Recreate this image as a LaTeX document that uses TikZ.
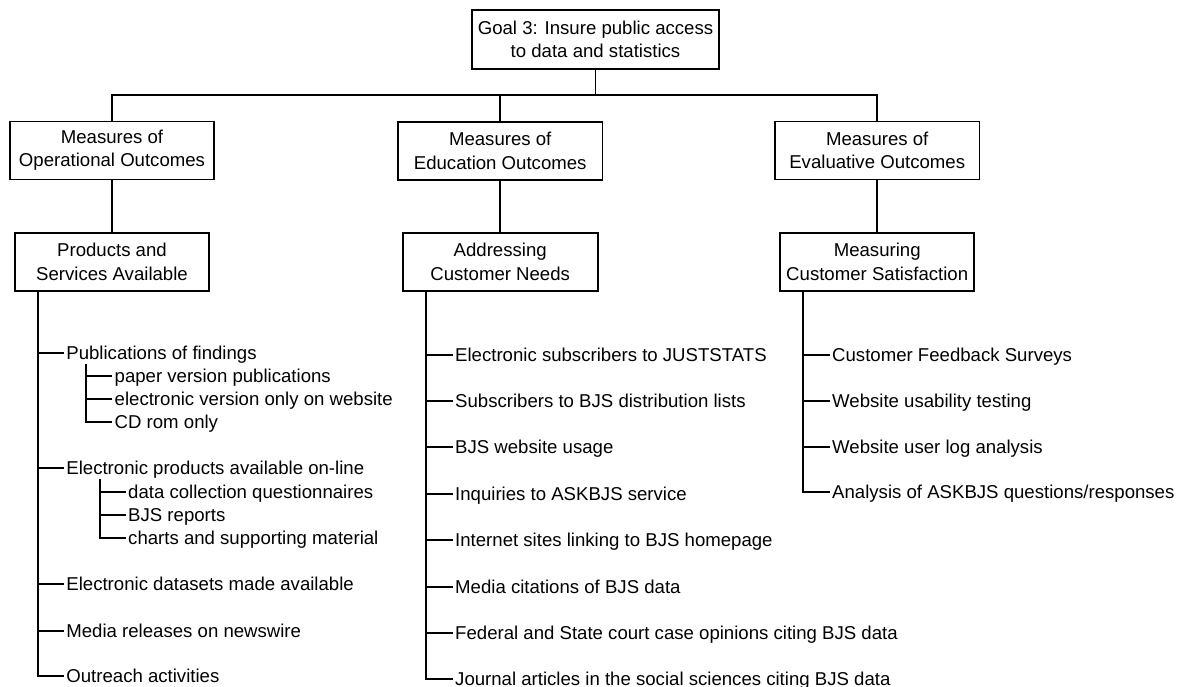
\documentclass[tikz,border=0pt]{standalone}
\usepackage{fontspec}
\setmainfont{Liberation Sans}
\begin{document}
\tikzset{
  box/.style={draw, line width=1.9pt, align=center, inner sep=0pt,
    font=\fontsize{18.6}{23.3}\selectfont},
  item/.style={anchor=west, inner xsep=2.5pt, inner ysep=0pt,
    text height=16pt, text depth=2.7pt, font=\fontsize{18.6}{23.3}\selectfont},
  conn/.style={line width=1.9pt},
}
\begin{tikzpicture}[x=1pt,y=-1pt]
\useasboundingbox (0,0) rectangle (1178,687);
% boxes
\node[box, minimum width=247pt, minimum height=59pt] (goal) at (595.5,39.5) {Goal 3: Insure public access\\to data and statistics};
\node[box, minimum width=204pt, minimum height=58pt] (A1) at (112,150.5) {Measures of\\Operational Outcomes};
\node[box, minimum width=204.5pt, minimum height=58pt] (B1) at (500.2,150.8) {Measures of\\Education Outcomes};
\node[box, minimum width=204.5pt, minimum height=58pt] (C1) at (877.2,150.5) {Measures of\\Evaluative Outcomes};
\node[box, minimum width=194.3pt, minimum height=57.5pt] (A2) at (112,262) {Products and\\Services Available};
\node[box, minimum width=195.3pt, minimum height=57.5pt] (B2) at (500.2,262) {Addressing\\Customer Needs};
\node[box, minimum width=194.3pt, minimum height=57.5pt] (C2) at (877.2,262) {Measuring\\Customer Satisfaction};
% top connectors
\coordinate (bus) at (595.5,95);
\draw[conn] (goal.south) -- (bus);
\draw[conn] (A1.north) |- (bus) -| (C1.north);
\draw[conn] (B1.north) -- (B1.north |- bus);
\draw[conn] (A1.south) -- (A1.south |- A2.north);
\draw[conn] (B1.south) -- (B1.south |- B2.north);
\draw[conn] (C1.south) -- (C1.south |- C2.north);
% left column
\node[item] (l1) at (63.7,352.7) {Publications of findings};
\node[item] (l1a) at (112,376) {paper version publications};
\node[item] (l1b) at (112,398.7) {electronic version only on website};
\node[item] (l1c) at (112,421.7) {CD rom only};
\node[item] (l2) at (63.7,468) {Electronic products available on-line};
\node[item] (l2a) at (125.5,491.7) {data collection questionnaires};
\node[item] (l2b) at (125.5,515) {BJS reports};
\node[item] (l2c) at (125.5,537.7) {charts and supporting material};
\node[item] (l3) at (63.7,584) {Electronic datasets made available};
\node[item] (l4) at (63.7,630.7) {Media releases on newswire};
\node[item] (l5) at (63.7,676) {Outreach activities};
\coordinate (ta) at (37.7,290.8);
\draw[conn] (ta) |- (l5.west);
\foreach \n in {l1,l2,l3,l4} \draw[conn] (ta |- \n.west) -- (\n.west);
\coordinate (s1) at (86,364);
\draw[conn] (s1) |- (l1c.west);
\foreach \n in {l1a,l1b} \draw[conn] (s1 |- \n.west) -- (\n.west);
\coordinate (s2) at (100,479);
\draw[conn] (s2) |- (l2c.west);
\foreach \n in {l2a,l2b} \draw[conn] (s2 |- \n.west) -- (\n.west);
% middle column
\node[item] (m1) at (452.5,355) {Electronic subscribers to JUSTSTATS};
\node[item] (m2) at (452.5,401) {Subscribers to BJS distribution lists};
\node[item] (m3) at (452.5,447.3) {BJS website usage};
\node[item] (m4) at (452.5,494) {Inquiries to ASKBJS service};
\node[item] (m5) at (452.5,540) {Internet sites linking to BJS homepage};
\node[item] (m6) at (452.5,586.7) {Media citations of BJS data};
\node[item] (m7) at (452.5,632.7) {Federal and State court case opinions citing BJS data};
\node[item] (m8) at (452.5,678.8) {Journal articles in the social sciences citing BJS data};
\coordinate (tb) at (426,290.8);
\draw[conn] (tb) |- (m8.west);
\foreach \n in {m1,m2,m3,m4,m5,m6,m7} \draw[conn] (tb |- \n.west) -- (\n.west);
% right column
\node[item] (r1) at (829.5,355) {Customer Feedback Surveys};
\node[item] (r2) at (829.5,401) {Website usability testing};
\node[item] (r3) at (829.5,447.3) {Website user log analysis};
\node[item] (r4) at (829.5,491.7) {Analysis of ASKBJS questions/responses};
\coordinate (tc) at (803.3,290.8);
\draw[conn] (tc) |- (r4.west);
\foreach \n in {r1,r2,r3} \draw[conn] (tc |- \n.west) -- (\n.west);
\end{tikzpicture}
\end{document}
